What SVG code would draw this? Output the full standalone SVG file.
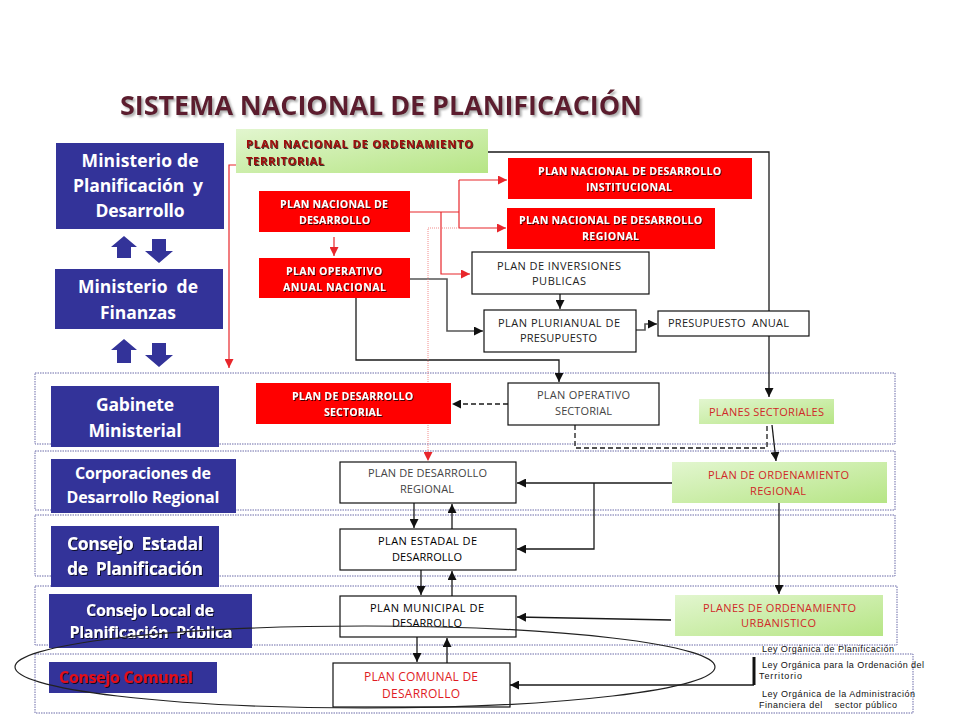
<svg xmlns="http://www.w3.org/2000/svg" width="960" height="720" viewBox="0 0 960 720">
<defs>
<style>
.blue{fill:#333399}
.bt{font-family:"Open Sans","Liberation Sans",sans-serif;font-weight:bold;fill:#fff;text-anchor:middle}
.red{fill:#ff0000}
.rt{font-family:"Open Sans","Liberation Sans",sans-serif;font-weight:bold;font-size:10.5px;fill:#fff;text-anchor:middle}
.wb{fill:#fff;stroke:#111;stroke-width:1.2}
.wt{font-family:"Open Sans","Liberation Sans",sans-serif;font-size:11px;fill:#222;text-anchor:middle}
.gb{fill:url(#gg)}
.gt{font-family:"Open Sans","Liberation Sans",sans-serif;font-size:11px;fill:#d02828;text-anchor:middle}
.band{fill:none;stroke:#6b6ba8;stroke-width:1;stroke-dasharray:1.5 1}
.c{fill:none;stroke:#1a1a1a;stroke-width:1.3}
.cg{fill:none;stroke:#555;stroke-width:1.6}
.cr{fill:none;stroke:#e8262b;stroke-width:1.2}
.law{font-family:"Liberation Sans",Arial,sans-serif;font-size:9px;fill:#111}
</style>
<linearGradient id="gg" x1="0" y1="0" x2="1" y2="1">
<stop offset="0" stop-color="#e2f6cf"/>
<stop offset="1" stop-color="#b6e585"/>
</linearGradient>
<filter id="sh" x="-5%" y="-30%" width="110%" height="160%">
<feDropShadow dx="1" dy="1" stdDeviation="0.4" flood-color="#000" flood-opacity="0.75"/>
</filter>
<filter id="tsh" x="-5%" y="-30%" width="110%" height="160%">
<feDropShadow dx="2" dy="2" stdDeviation="1" flood-color="#777" flood-opacity="0.6"/>
</filter>
<marker id="ab" viewBox="0 0 10 10" refX="10" refY="5" markerWidth="9" markerHeight="9" markerUnits="userSpaceOnUse" orient="auto"><path d="M0,0L10,5L0,10z" fill="#111"/></marker>
<marker id="ar" viewBox="0 0 10 10" refX="10" refY="5" markerWidth="9" markerHeight="9" markerUnits="userSpaceOnUse" orient="auto"><path d="M0,0L10,5L0,10z" fill="#e8262b"/></marker>
</defs>
<rect width="960" height="720" fill="#fff"/>

<text x="120" y="115" font-family="Open Sans, Liberation Sans, sans-serif" font-weight="bold" font-size="27" fill="#5c1f2f" filter="url(#tsh)" textLength="522">SISTEMA NACIONAL DE PLANIFICACIÓN</text>

<g id="bands">
<rect class="band" x="35" y="373" width="860" height="71"/>
<rect class="band" x="35" y="451" width="860" height="59"/>
<rect class="band" x="35" y="515" width="860" height="61"/>
<rect class="band" x="35" y="586" width="862" height="59"/>
<rect class="band" x="35" y="654" width="878" height="59"/>
</g>

<g id="connectors">
<path class="c" d="M488,152H769V397" marker-end="url(#ab)"/>
<path class="cg" d="M410,279H447V331H483" marker-end="url(#ab)"/>
<path class="c" d="M356,298V360H559V382" marker-end="url(#ab)"/>
<path class="c" d="M560,294V309" marker-end="url(#ab)"/>
<path class="cg" d="M636,330H645V324H657" marker-end="url(#ab)"/>
<path class="c" d="M772,425L776,461" marker-end="url(#ab)"/>
<path class="c" d="M672,483H517" marker-end="url(#ab)"/>
<path class="c" d="M594,483V549H517" marker-end="url(#ab)"/>
<path class="c" d="M779,503V594" marker-end="url(#ab)"/>
<path class="c" d="M671,620L517,617" marker-end="url(#ab)"/>
<path class="c" d="M754,685H510" marker-end="url(#ab)"/>
<path class="c" d="M414,503V528" marker-end="url(#ab)"/>
<path class="c" d="M452,529V504" marker-end="url(#ab)"/>
<path class="c" d="M421,570V595" marker-end="url(#ab)"/>
<path class="c" d="M452,596V571" marker-end="url(#ab)"/>
<path class="c" d="M417,637V662" marker-end="url(#ab)"/>
<path class="c" d="M447,663V638" marker-end="url(#ab)"/>
<path class="c" d="M508,404H452" stroke-dasharray="5 3" marker-end="url(#ab)"/>
<path class="c" d="M575,425V448H767V425" stroke-dasharray="5 3"/>
<path class="cr" d="M410,212H459M459,180V228"/>
<path class="cr" d="M459,180H507" marker-end="url(#ar)"/>
<path class="cr" d="M459,228H506" marker-end="url(#ar)"/>
<path class="cr" d="M441,212V274H470" marker-end="url(#ar)"/>
<path class="cr" d="M334,237V256" marker-end="url(#ar)"/>
<path class="cr" d="M236,165H229V368" marker-end="url(#ar)"/>
<path fill="none" stroke="#f08080" stroke-width="0.9" stroke-dasharray="1 1" d="M459,228H428V461" marker-end="url(#ar)"/>
</g>

<g id="n-mpd"><rect class="blue" x="56" y="143" width="168" height="86"/>
<text class="bt" font-size="17.5" x="140" y="167" textLength="117">Ministerio de</text>
<text class="bt" font-size="17.5" x="138" y="192" textLength="130" style="white-space:pre">Planificación  y</text>
<text class="bt" font-size="17.5" x="140" y="217" textLength="89">Desarrollo</text></g>
<g id="arrows1"><polygon class="blue" points="124,236 137,247 131,247 131,258 117,258 117,247 111,247"/>
<polygon class="blue" points="152,239 166,239 166,251 173,251 159,263 145,251 152,251"/></g>
<g id="n-mf"><rect class="blue" x="55" y="269" width="168" height="60"/>
<text class="bt" font-size="17.5" x="138" y="293" textLength="120" style="white-space:pre">Ministerio  de</text>
<text class="bt" font-size="17.5" x="138" y="319" textLength="76">Finanzas</text></g>
<g id="arrows2"><polygon class="blue" points="124,339 137,350 131,350 131,363 117,363 117,350 111,350"/>
<polygon class="blue" points="152,343 166,343 166,355 173,355 159,367 145,355 152,355"/></g>
<g id="n-gab"><rect class="blue" x="51" y="386" width="168" height="61"/>
<text class="bt" font-size="17.5" x="135" y="411" textLength="78">Gabinete</text>
<text class="bt" font-size="17.5" x="135" y="437" textLength="93">Ministerial</text></g>
<g id="n-cdr"><rect class="blue" x="51" y="459" width="185" height="54"/>
<text class="bt" font-size="16" x="143" y="479" textLength="136">Corporaciones de</text>
<text class="bt" font-size="16" x="143" y="503" textLength="153">Desarrollo Regional</text></g>
<g id="n-cep"><rect class="blue" x="51" y="526" width="168" height="61"/>
<text class="bt" font-size="17.5" x="135" y="550" textLength="136" filter="url(#sh)" style="white-space:pre">Consejo  Estadal</text>
<text class="bt" font-size="17.5" x="135" y="575" textLength="136" filter="url(#sh)" style="white-space:pre">de  Planificación</text></g>
<g id="n-clp"><rect class="blue" x="49" y="594" width="203" height="54"/>
<text class="bt" font-size="16" x="150" y="616" textLength="128" filter="url(#sh)">Consejo Local de</text>
<text class="bt" font-size="16" x="151" y="638" textLength="163" filter="url(#sh)" style="white-space:pre">Planificación  Pública</text></g>
<g id="n-cc"><rect class="blue" x="49" y="662" width="168" height="31"/>
<text class="bt" font-size="16" x="126" y="683" textLength="134" style="fill:#e3101c" filter="url(#sh)">Consejo Comunal</text></g>

<g id="n-pnot"><rect class="gb" x="236" y="129" width="252" height="44"/>
<text x="246" y="148" font-family="Open Sans, Liberation Sans, sans-serif" font-weight="bold" font-size="11" fill="#a01010" filter="url(#sh)" textLength="227">PLAN NACIONAL DE ORDENAMIENTO</text>
<text x="246" y="165" font-family="Open Sans, Liberation Sans, sans-serif" font-weight="bold" font-size="11" fill="#a01010" filter="url(#sh)" textLength="78">TERRITORIAL</text></g>

<g id="n-pnd"><rect class="red" x="259" y="191" width="151" height="41"/>
<text class="rt" x="334" y="208" textLength="108" filter="url(#sh)">PLAN NACIONAL DE</text>
<text class="rt" x="334.5" y="224" textLength="71" filter="url(#sh)">DESARROLLO</text></g>
<g id="n-poan"><rect class="red" x="259" y="258" width="151" height="40"/>
<text class="rt" x="334" y="275" textLength="96" filter="url(#sh)">PLAN OPERATIVO</text>
<text class="rt" x="334.5" y="291" textLength="103" filter="url(#sh)">ANUAL NACIONAL</text></g>
<g id="n-pndi"><rect class="red" x="508" y="158" width="244" height="41"/>
<text class="rt" x="629.5" y="175" textLength="183" filter="url(#sh)">PLAN NACIONAL DE DESARROLLO</text>
<text class="rt" x="629" y="191" textLength="86" filter="url(#sh)">INSTITUCIONAL</text></g>
<g id="n-pndr"><rect class="red" x="507" y="208" width="208" height="41"/>
<text class="rt" x="610.5" y="224" textLength="183" filter="url(#sh)">PLAN NACIONAL DE DESARROLLO</text>
<text class="rt" x="610.5" y="240" textLength="57" filter="url(#sh)">REGIONAL</text></g>
<g id="n-pds"><rect class="red" x="256" y="383" width="195" height="41"/>
<text class="rt" x="352.5" y="400" textLength="121" filter="url(#sh)">PLAN DE DESARROLLO</text>
<text class="rt" x="353" y="416" textLength="58" filter="url(#sh)">SECTORIAL</text></g>

<g id="n-pip"><rect class="wb" x="472" y="252" width="177" height="42"/>
<text class="wt" x="559" y="270" textLength="124">PLAN DE INVERSIONES</text>
<text class="wt" x="559" y="285" textLength="54">PUBLICAS</text></g>
<g id="n-ppp"><rect class="wb" x="484" y="310" width="152" height="42"/>
<text class="wt" x="559" y="327" textLength="122">PLAN PLURIANUAL DE</text>
<text class="wt" x="558.5" y="342" textLength="77">PRESUPUESTO</text></g>
<g id="n-pa"><rect class="wb" x="658" y="311" width="151" height="25"/>
<text class="wt" x="668" y="327" textLength="121" style="text-anchor:start;white-space:pre">PRESUPUESTO  ANUAL</text></g>
<g id="n-pos"><rect class="wb" x="508" y="383" width="151" height="42"/>
<text class="wt" x="583.5" y="399" textLength="93" style="fill:#444">PLAN OPERATIVO</text>
<text class="wt" x="583.5" y="415" textLength="57" style="fill:#444">SECTORIAL</text></g>
<g id="n-ps"><rect class="gb" x="699" y="399" width="135" height="25"/>
<text class="gt" x="766.5" y="416" textLength="115">PLANES SECTORIALES</text></g>
<g id="n-por"><rect class="gb" x="672" y="462" width="215" height="41"/>
<text class="gt" x="778.5" y="479" textLength="141">PLAN DE ORDENAMIENTO</text>
<text class="gt" x="778" y="495" textLength="56">REGIONAL</text></g>
<g id="n-pou"><rect class="gb" x="675" y="595" width="208" height="41"/>
<text class="gt" x="779.5" y="612" textLength="153">PLANES DE ORDENAMIENTO</text>
<text class="gt" x="778.5" y="627" textLength="75">URBANISTICO</text></g>

<g id="n-pdr"><rect class="wb" x="340" y="462" width="176" height="41"/>
<text class="wt" x="427.5" y="477" textLength="119" style="fill:#444">PLAN DE DESARROLLO</text>
<text class="wt" x="427" y="493" textLength="54" style="fill:#444">REGIONAL</text></g>
<g id="n-ped"><rect class="wb" x="340" y="529" width="176" height="41"/>
<text class="wt" x="427.5" y="545" textLength="99" style="fill:#000">PLAN ESTADAL DE</text>
<text class="wt" x="427" y="561" textLength="70" style="fill:#000">DESARROLLO</text></g>
<g id="n-pmd"><rect class="wb" x="340" y="596" width="176" height="41"/>
<text class="wt" x="427" y="612" textLength="114" style="fill:#000">PLAN MUNICIPAL DE</text>
<text class="wt" x="427" y="627" textLength="70" style="fill:#000">DESARROLLO</text></g>
<g id="n-pcd"><rect class="wb" x="333" y="663" width="177" height="44"/>
<text class="wt" x="421" y="681" textLength="114" style="fill:#e01b24;font-size:12px">PLAN COMUNAL DE</text>
<text class="wt" x="421" y="698" textLength="78" style="fill:#e01b24;font-size:12px">DESARROLLO</text></g>

<g id="annotations">
<ellipse cx="365" cy="667" rx="350" ry="41" fill="none" stroke="#222" stroke-width="1.2"/>
<path d="M754,657V685" stroke="#111" stroke-width="3" fill="none"/>
</g>

<g id="laws">
<text class="law" x="762" y="652" textLength="132">Ley Orgánica de Planificación</text>
<text class="law" x="762" y="668" textLength="162">Ley Orgánica para la Ordenación del</text>
<text class="law" x="759" y="679" textLength="43">Territorio</text>
<text class="law" x="762" y="697" textLength="153">Ley Orgánica de la Administración</text>
<text class="law" x="759" y="708" textLength="138" style="white-space:pre">Financiera del    sector público</text>
</g>
</svg>
